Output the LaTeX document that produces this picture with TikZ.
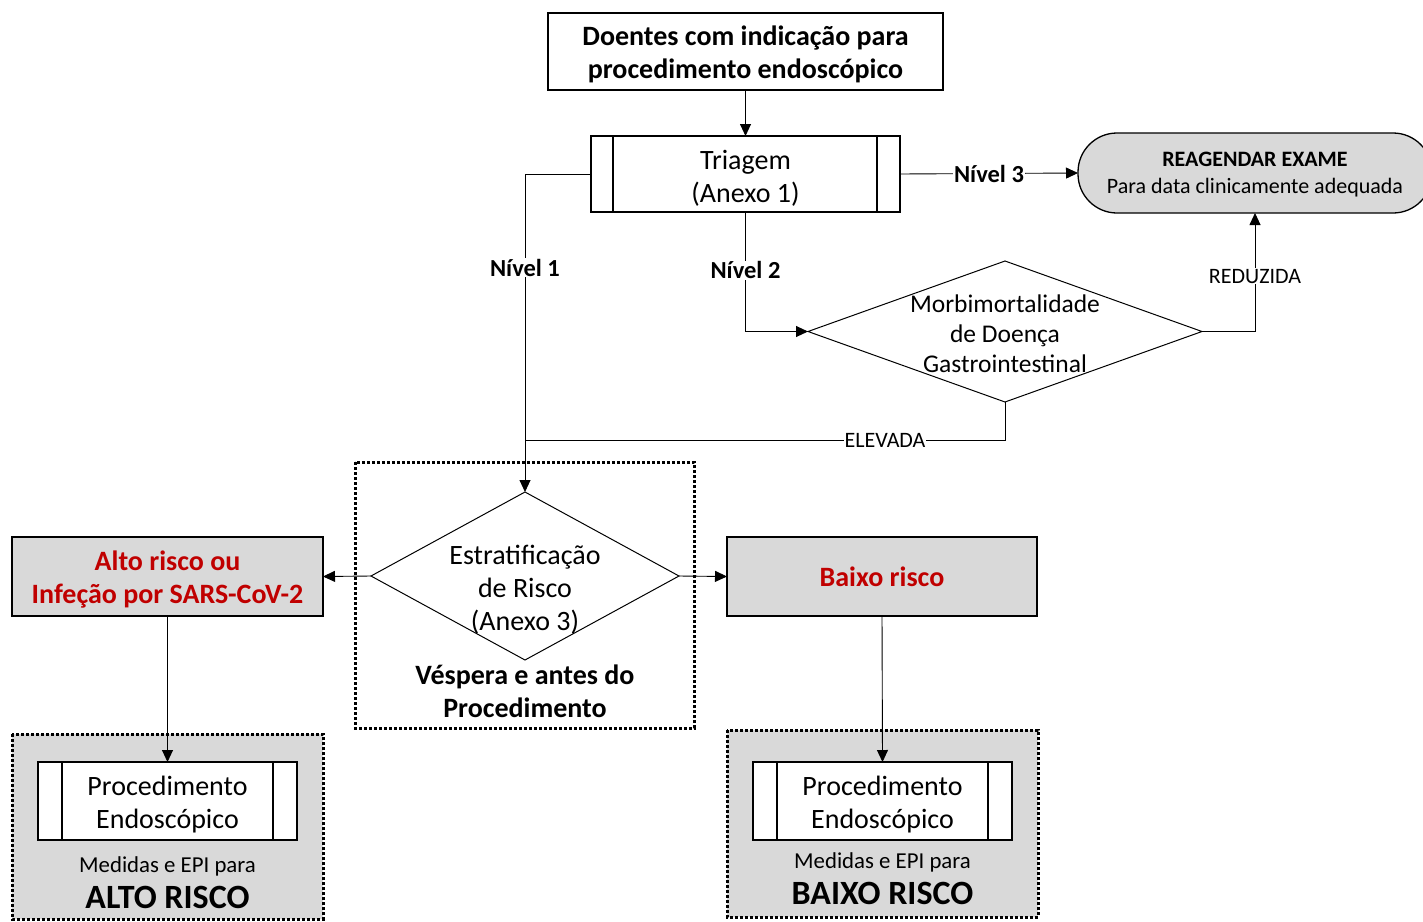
\documentclass[tikz,border=0pt]{standalone}
\usepackage{fontspec}
\setmainfont{Carlito}
\usetikzlibrary{arrows.meta,shapes.geometric}
\definecolor{boxgray}{HTML}{D9D9D9}
\definecolor{riskred}{HTML}{C00000}
\newcommand{\fsbig}{\fontsize{28}{33}\selectfont}
\newcommand{\fsmid}{\fontsize{25.5}{30}\selectfont}
\newcommand{\fssmall}{\fontsize{22}{27}\selectfont}
\newcommand{\fsmed}{\fontsize{22.8}{27}\selectfont}
\newcommand{\fslabel}{\fontsize{24.5}{28}\selectfont}
\newcommand{\fshuge}{\fontsize{34}{38}\selectfont}

\begin{document}
\begin{tikzpicture}[x=1pt, y=-1pt,
		box/.style={draw, line width=1.3pt, inner sep=0pt, outer sep=0pt},
		txt/.style={align=center, inner sep=0pt},
		decide/.style={draw, diamond, line width=1pt, inner sep=0pt, outer sep=0pt},
		flow/.style={line width=0.9pt, -{Triangle[length=12pt,width=11pt]}},
		link/.style={line width=0.9pt},
		lbl/.style={fill=white, inner sep=1pt, font=\fssmall},
		lvl/.style={fill=white, inner sep=1pt, font=\fslabel\bfseries},
		dotbox/.style={line width=3pt, dash pattern=on 3pt off 2pt}]
		%%%%% START %%%%%
		
		\useasboundingbox (0,0) rectangle (1423,921);
		\clip (0,0) rectangle (1423,921);
		
		\node[box, minimum width=395pt, minimum height=77pt] (doentes) at (745.5,51.5) {};
		\node[txt, font=\fsbig\bfseries] (doentestxt) at (745.5,54.5) {Doentes com indicação para\\procedimento endoscópico};
		
		\node[box, minimum width=309pt, minimum height=76pt] (tri) at (745.5,174) {};
		\node[txt, font=\fsbig] (tritxt) at (745.5,178) {Triagem\\(Anexo 1)};
		\draw[line width=1.3pt] ([xshift=22pt]tri.north west) -- ([xshift=22pt]tri.south west);
		\draw[line width=1.3pt] ([xshift=-23pt]tri.north east) -- ([xshift=-23pt]tri.south east);
		
		\node[box, fill=boxgray, rounded corners=39pt, minimum width=354pt, minimum height=80pt] (reag) at (1255,173) {};
		\node[txt, font=\fssmall] (reagtxt) at (1255,175) {\textbf{REAGENDAR EXAME}\\Para data clinicamente adequada};
		
		\node[decide, minimum width=394pt, minimum height=141pt] (morb) at (1005,331.5) {};
		\node[txt, font=\fsmid] (morbtxt) at (1005,334) {Morbimortalidade\\de Doença\\Gastrointestinal};
		
		\draw[dotbox] (355,462) rectangle (694,728);
		\node[decide, minimum width=308pt, minimum height=168pt] (estr) at (525,576) {};
		\node[txt, font=\fsbig] (estrtxt) at (525,590) {Estratificação\\de Risco\\(Anexo 3)};
		\node[txt, font=\fsbig\bfseries] (vesp) at (525,691) {Véspera e antes do\\Procedimento};
		
		\node[box, fill=boxgray, minimum width=311pt, minimum height=79pt] (alto) at (167.5,576.5) {};
		\node[txt, font=\fsbig\bfseries, text=riskred] (altotxt) at (167.5,579.5) {Alto risco ou\\Infeção por SARS-CoV-2};
		\node[box, fill=boxgray, minimum width=310pt, minimum height=79pt] (baixo) at (882,576.5) {};
		\node[txt, font=\fsbig\bfseries, text=riskred] (baixotxt) at (882,577) {Baixo risco};
		
		\draw[dotbox, fill=boxgray] (12,734) rectangle (323,919);
		\node[box, fill=white, minimum width=259pt, minimum height=78pt] (procA) at (167.5,801) {};
		\node[txt, font=\fsbig] (procAtxt) at (167.5,805) {Procedimento\\Endoscópico};
		\draw[line width=1.3pt] ([xshift=24pt]procA.north west) -- ([xshift=24pt]procA.south west);
		\draw[line width=1.3pt] ([xshift=-24pt]procA.north east) -- ([xshift=-24pt]procA.south east);
		\node[font=\fsmed] (medA) at (167.5,866) {Medidas e EPI para};
		\node[font=\fshuge\bfseries] (riscoA) at (167.5,897) {ALTO RISCO};
		
		\draw[dotbox, fill=boxgray] (727,730) rectangle (1038,917);
		\node[box, fill=white, minimum width=259pt, minimum height=78pt] (procB) at (882.5,801) {};
		\node[txt, font=\fsbig] (procBtxt) at (882.5,805) {Procedimento\\Endoscópico};
		\draw[line width=1.3pt] ([xshift=24pt]procB.north west) -- ([xshift=24pt]procB.south west);
		\draw[line width=1.3pt] ([xshift=-24pt]procB.north east) -- ([xshift=-24pt]procB.south east);
		\node[font=\fsmed] (medB) at (882.5,862) {Medidas e EPI para};
		\node[font=\fshuge\bfseries] (riscoB) at (882.5,893) {BAIXO RISCO};
		
		% connectors
		\draw[flow] (doentes) -- (tri);
		\draw[flow] (tri.east) -- node[lvl] (n3) {Nível 3} (reag.west);
		\draw[flow] (tri.west) -| node[lvl, pos=0.647] (n1) {Nível 1} (estr.north);
		\draw[flow] (tri.south) |- node[lvl, pos=0.244] (n2) {Nível 2} (morb.west);
		\draw[flow] (morb.east) -| node[lbl, pos=0.733] (red) {REDUZIDA} (reag.south);
		\coordinate (joint) at (525,440);
		\draw[link] (morb.south) |- node[lbl, pos=0.625] (elev) {ELEVADA} (joint);
		\draw[flow] (estr.west) -- (alto.east);
		\draw[flow] (estr.east) -- (baixo.west);
		\draw[flow] (alto.south) -- (procA.north);
		\draw[flow] (baixo.south) -- (procB.north);
		
		%%%%% END %%%%%
	\end{tikzpicture}
\end{document}
